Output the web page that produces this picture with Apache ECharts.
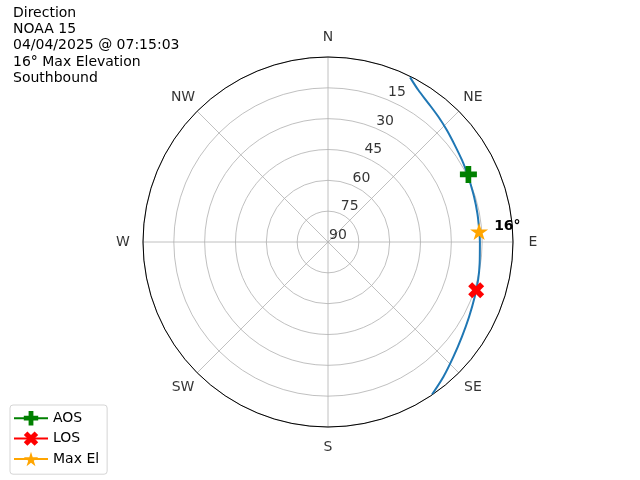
<!DOCTYPE html>
<html><head><meta charset="utf-8">
<script src="https://cdn.jsdelivr.net/npm/echarts@6/dist/echarts.min.js"></script>
<style>html,body{margin:0;padding:0;background:#fff}#c{width:640px;height:480px}</style>
</head><body><div id="c"></div>
<script>
// ---- data ----
const titleLines = ['Direction', 'NOAA 15', '04/04/2025 @ 07:15:03', '16° Max Elevation', 'Southbound'];
const directionNames = ['N', 'NE', 'E', 'SE', 'S', 'SW', 'W', 'NW'];
const directionAngles = [0, 45, 90, 135, 180, 225, 270, 315];
const elevationTicks = [15, 30, 45, 60, 75, 90];
const elevationLabelAngle = 22.5;
// satellite track (azimuth deg, elevation deg)
const trackAz = [26.5, 30.7, 35.9, 41.4, 46.7, 53.1, 58.5, 62.4, 66.2, 72.7, 79.1, 85.5, 90, 98, 104, 110.4, 118, 125.3, 132.5, 139.4, 145.7];
const trackEl = [0.5, 4.0, 6.7, 8.8, 10.6, 12.5, 13.6, 14.3, 14.9, 15.6, 16.0, 16.2, 16.1, 15.5, 14.7, 13.8, 12.3, 10.2, 7.3, 3.7, 0.2];
const aosAz = [64.3];
const aosEl = [14.2];
const losAz = [108];
const losEl = [14.2];
const maxElAz = [86];
const maxElEl = [16.3];
const maxElLabel = 16;

// ---- symbols ----
const plusPath = 'path://M1,0H2V1H3V2H2V3H1V2H0V1H1Z';
const xPath = 'path://M0,1L1,0L2,1L3,0L4,1L3,2L4,3L3,4L2,3L1,4L0,3L1,2Z';
const starPath = 'path://M0,-1L0.2245,-0.309L0.951,-0.309L0.363,0.118L0.588,0.809L0,0.382L-0.588,0.809L-0.363,0.118L-0.951,-0.309L-0.2245,-0.309Z';

const font = 'DejaVu Sans';
const chart = echarts.init(document.getElementById('c'), null, {renderer: 'canvas'});

function markerSeries(name, az, el, symbol, size, color, extra) {
  return Object.assign({
    name: name, type: 'line', coordinateSystem: 'polar', polarIndex: 0,
    data: el.map((e, i) => [e, az[i]]),
    symbol: symbol, symbolSize: size, symbolKeepAspect: true, showSymbol: true,
    itemStyle: {color: color, borderWidth: 0},
    lineStyle: {color: color, width: 2},
    z: 5, silent: true
  }, extra || {});
}

chart.setOption({
  animation: false,
  backgroundColor: '#fff',
  textStyle: {fontFamily: font},
  title: {
    text: titleLines.join('\n'),
    left: 8, top: 0,
    textStyle: {fontFamily: font, fontSize: 14, fontWeight: 'normal', color: '#000', lineHeight: 16.3}
  },
  legend: {
    data: ['AOS', 'LOS', 'Max El'],
    orient: 'vertical', left: 10, top: 405,
    padding: [6, 8, 8, 3],
    itemWidth: 34, itemHeight: 18, itemGap: 6,
    borderColor: '#d5d5d5', borderWidth: 1, borderRadius: 3,
    textStyle: {fontFamily: font, fontSize: 14, color: '#000'},
    selectedMode: false
  },
  polar: [
    {center: [328, 242], radius: 185},
    {center: [328, 242], radius: 205}
  ],
  angleAxis: [
    {
      polarIndex: 0, type: 'value', min: 0, max: 360, interval: 45,
      startAngle: 90, clockwise: true,
      axisLine: {show: true, lineStyle: {color: '#000', width: 1}},
      axisTick: {show: false}, axisLabel: {show: false},
      splitLine: {show: true, lineStyle: {color: '#b0b0b0', width: 0.8}}
    },
    {
      polarIndex: 1, type: 'value', min: 0, max: 360, startAngle: 90, clockwise: true,
      axisLine: {show: false}, axisTick: {show: false}, axisLabel: {show: false}, splitLine: {show: false}
    }
  ],
  radiusAxis: [
    {
      polarIndex: 0, type: 'value', min: 0, max: 90, interval: 15, inverse: true,
      axisLine: {show: false}, axisTick: {show: false}, axisLabel: {show: false},
      splitLine: {show: true, lineStyle: {color: '#b0b0b0', width: 0.8}}
    },
    {
      polarIndex: 1, type: 'value', min: 0, max: 1,
      axisLine: {show: false}, axisTick: {show: false}, axisLabel: {show: false}, splitLine: {show: false}
    }
  ],
  series: [
    {
      name: 'track', type: 'line', coordinateSystem: 'polar', polarIndex: 0,
      data: trackEl.map((e, i) => [e, trackAz[i]]),
      showSymbol: false, smooth: 0.3,
      lineStyle: {color: '#1f77b4', width: 2}, z: 3, silent: true
    },
    markerSeries('AOS', aosAz, aosEl, plusPath, 17, '#008000'),
    markerSeries('LOS', losAz, losEl, xPath, 16, '#ff0000'),
    markerSeries('Max El', maxElAz, maxElEl, starPath, 18, '#ffa500', {
      label: {
        show: true, position: 'right', distance: 6, offset: [0, -5],
        formatter: () => maxElLabel + '°',
        fontFamily: font, fontSize: 14, fontWeight: 'bold', color: '#000'
      }
    }),
    {
      name: 'rlabels', type: 'scatter', coordinateSystem: 'polar', polarIndex: 0,
      data: elevationTicks.map(v => [v, elevationLabelAngle]),
      symbolSize: 0, silent: true, z: 4,
      label: {
        show: true, position: [1, 0], align: 'left', verticalAlign: 'bottom',
        formatter: p => String(p.value[0]),
        fontFamily: font, fontSize: 14, color: '#000'
      }
    },
    {
      name: 'dirlabels', type: 'scatter', coordinateSystem: 'polar', polarIndex: 1,
      data: directionAngles.map((a, i) => ({value: [1, a], name: directionNames[i]})),
      symbolSize: 0, silent: true,
      label: {
        show: true, position: 'inside', align: 'center', verticalAlign: 'middle',
        formatter: p => p.name,
        fontFamily: font, fontSize: 14, color: '#000'
      }
    }
  ]
});
</script></body></html>
